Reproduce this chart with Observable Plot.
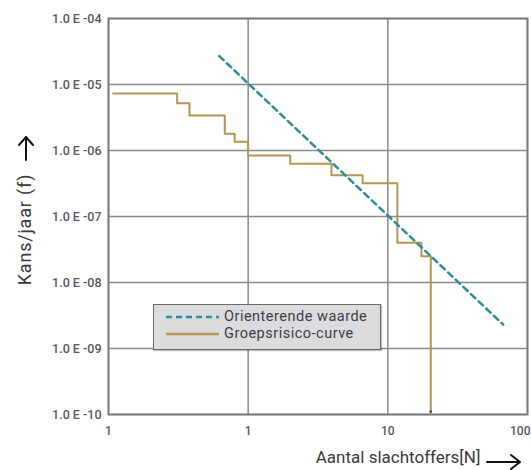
<!DOCTYPE html>
<html>
<head>
<meta charset="utf-8">
<script src="https://cdn.jsdelivr.net/npm/d3@7"></script>
<script src="https://cdn.jsdelivr.net/npm/@observablehq/plot@0.6"></script>
<style>
  body { margin: 0; background: #fff; }
  #wrap { position: relative; width: 531px; height: 470px; font-family: Roboto, "Noto Sans", sans-serif; }
  #legend { position: absolute; left: 153px; top: 304px; width: 226px; height: 41px;
    background: #dcdcde; border: 1.5px solid #6a6a6a; box-shadow: 1px 1px 1px rgba(0,0,0,0.25);
    font-size: 14.5px; letter-spacing: 0.5px; color: #3c3c48; line-height: 17px; padding-top: 3px; box-sizing: content-box; }
  #legend .row { display: flex; align-items: center; height: 17px; }
  #legend .row span { display: block; line-height: 17px; height: 17px; }
  #legend svg { margin-left: 12px; margin-right: 5px; }
  #arrows { position: absolute; left: 0; top: 0; pointer-events: none; }
</style>
</head>
<body>
<div id="wrap"></div>
<script>
// Ticks
const xTicks = [0.1, 1, 10, 100];
const xTickLabels = ["1", "1", "10", "100"];
const yTicks = [1e-4, 1e-5, 1e-6, 1e-7, 1e-8, 1e-9, 1e-10];
const yTickLabels = ["1.0 E -04", "1.0 E -05", "1.0 E -06", "1.0 E -07", "1.0 E -08", "1.0 E -09", "1.0 E -10"];

// Groepsrisico-curve (step-after)
const groepN = [0.108, 0.31, 0.38, 0.68, 0.80, 1.0, 2.0, 3.95, 6.6, 11.7, 17.4, 20.3];
const groepF = [7.3e-6, 5.2e-6, 3.4e-6, 1.8e-6, 1.36e-6, 8.4e-7, 6.3e-7, 4.2e-7, 3.2e-7, 4.0e-8, 2.5e-8, 1.1e-10];

// Orienterende waarde
const orientN = [0.62, 67];
const orientF = [2.7e-5, 2.3e-9];

const seriesNames = ["Orienterende waarde", "Groepsrisico-curve"];
const seriesColors = ["#2f8c99", "#b39752"];

const groep = groepN.map((n, i) => ({N: n, f: groepF[i]}));
const orient = orientN.map((n, i) => ({N: n, f: orientF[i]}));
const last = [groep[groep.length - 1]];
const fmtX = d => xTickLabels[xTicks.indexOf(d)];

const chart = Plot.plot({
  width: 531,
  height: 470,
  marginLeft: 108,
  marginRight: 4,
  marginTop: 18,
  marginBottom: 56,
  style: {fontFamily: "Roboto, 'Noto Sans', sans-serif", background: "transparent"},
  x: {type: "log", domain: [0.1, 100]},
  y: {type: "log", domain: [1e-10, 1e-4]},
  marks: [
    Plot.gridX(xTicks, {stroke: "#8a8a8a", strokeOpacity: 1, strokeWidth: 1.5}),
    Plot.gridY(yTicks, {stroke: "#8a8a8a", strokeOpacity: 1, strokeWidth: 1.5}),
    Plot.frame({stroke: "#777", strokeWidth: 1.8}),
    Plot.line(groep, {x: "N", y: "f", curve: "step-after", stroke: seriesColors[1], strokeWidth: 2}),
    Plot.dot(last, {x: "N", y: "f", r: 1.4, fill: "#555", stroke: null}),
    Plot.line(orient, {x: "N", y: "f", stroke: seriesColors[0], strokeWidth: 2.5, strokeDasharray: "6,4.5"}),
    Plot.axisX(xTicks.slice(0, 3), {tickSize: 0, tickPadding: 12, tickFormat: fmtX, fontSize: 12, fill: "#5a5566", fontWeight: 500, label: null}),
    Plot.axisX(xTicks.slice(3), {tickSize: 0, tickPadding: 12, tickFormat: fmtX, fontSize: 12, fill: "#5a5566", fontWeight: 500, label: null, textAnchor: "end", dx: 3}),
    Plot.axisY(yTicks, {tickSize: 0, tickPadding: 7, tickFormat: d => yTickLabels[yTicks.indexOf(d)], fontSize: 12.5, fill: "#5a5566", fontWeight: 500, label: null}),
    Plot.text(["Aantal slachtoffers[N]"], {frameAnchor: "bottom-right", dx: -47, dy: 48, textAnchor: "end", fontSize: 17, fill: "#3a3a3a"}),
    Plot.text(["Kans/jaar (f)"], {frameAnchor: "left", dx: -83, dy: 13, rotate: -90, textAnchor: "middle", fontSize: 18, fill: "#3a3a3a"})
  ]
});

const wrap = document.getElementById("wrap");
wrap.appendChild(chart);
d3.select(chart).selectAll("text").filter(function () { return this.textContent === "Kans/jaar (f)"; })
  .attr("letter-spacing", "0.8");

// axis arrows (decoration)
const arrows = document.createElementNS("http://www.w3.org/2000/svg", "svg");
arrows.setAttribute("id", "arrows");
arrows.setAttribute("width", 531);
arrows.setAttribute("height", 470);
arrows.innerHTML = `
  <g stroke="#111" stroke-width="2" fill="none" stroke-linecap="round" stroke-linejoin="round">
    <path d="M487,462 H520 M511,455 L520,462 L511,469"/>
    <path d="M26,160 V137 M19,145 L26,137 L33,145"/>
  </g>`;
wrap.appendChild(arrows);

const legend = document.createElement("div");
legend.id = "legend";
const dashes = ["6,4", null];
seriesNames.forEach((name, i) => {
  const row = document.createElement("div");
  row.className = "row";
  row.innerHTML = `<svg width="53" height="6"><line x1="0" y1="3" x2="53" y2="3" stroke="${seriesColors[i]}" stroke-width="2.5" ${dashes[i] ? `stroke-dasharray="${dashes[i]}"` : ""}/></svg><span>${name}</span>`;
  legend.appendChild(row);
});
wrap.appendChild(legend);
</script>
</body>
</html>
